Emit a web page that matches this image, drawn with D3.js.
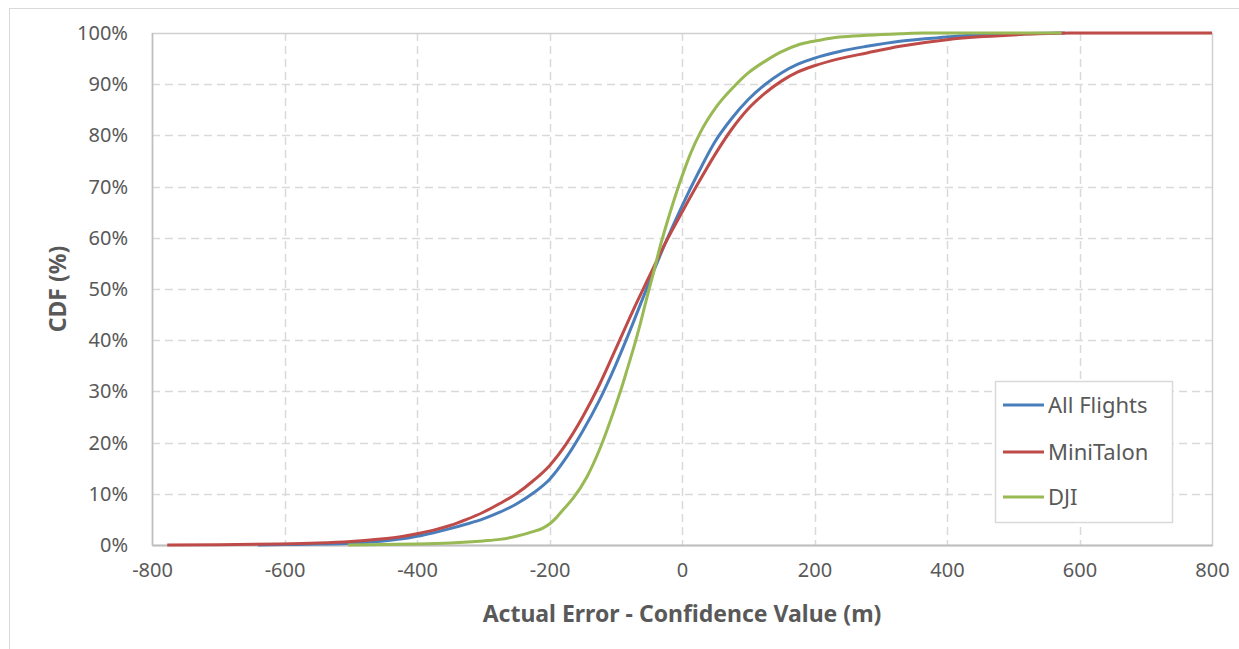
<!DOCTYPE html>
<html>
<head>
<meta charset="utf-8">
<script src="https://cdn.jsdelivr.net/npm/d3@7"></script>
<style>
  html, body { margin: 0; padding: 0; background: #ffffff; }
  svg { display: block; }
  text { font-family: "Noto Sans", "Open Sans", sans-serif; fill: #595959; }
</style>
</head>
<body>
<svg id="chart" width="1239" height="649"></svg>
<script>
// ---- Data ----
const seriesNames = ["All Flights", "MiniTalon", "DJI"];
const seriesColors = ["#4a7ebb", "#be4b48", "#98b954"];

// [Actual Error - Confidence Value (m), CDF %]
const allFlights = [
  [-640,0],[-600,0.08],[-550,0.18],[-500,0.35],[-450,0.8],[-425,1.15],[-400,1.7],[-375,2.4],
  [-350,3.2],[-325,4.1],[-300,5.1],[-275,6.4],[-250,8.0],[-225,10.1],[-200,12.8],[-175,17.0],
  [-150,22.2],[-125,28.2],[-100,35.2],[-75,43.0],[-50,51.2],[-25,59.0],[0,66.2],[25,72.8],
  [50,78.8],[75,83.3],[100,87.0],[125,89.9],[150,92.2],[175,93.9],[200,95.1],[238,96.4],
  [279,97.4],[329,98.4],[400,99.2],[455,99.7],[520,99.9],[578,100]
];
const miniTalon = [
  [-777,0],[-700,0.05],[-607,0.2],[-550,0.4],[-500,0.7],[-450,1.2],[-425,1.6],[-400,2.2],
  [-375,2.9],[-350,3.8],[-325,5.0],[-300,6.4],[-275,8.1],[-250,10.0],[-225,12.5],[-200,15.5],
  [-175,19.7],[-150,25.0],[-125,31.2],[-100,38.3],[-75,45.5],[-50,52.3],[-25,59.0],[0,65.0],
  [25,70.8],[50,76.3],[75,81.2],[100,85.2],[125,88.2],[150,90.6],[175,92.4],[200,93.6],
  [238,95.0],[279,96.1],[329,97.4],[400,98.7],[455,99.3],[530,99.8],[586,100],[800,100]
];
const dji = [
  [-504,0],[-450,0.1],[-400,0.2],[-350,0.4],[-300,0.8],[-275,1.1],[-250,1.7],[-225,2.6],
  [-210,3.3],[-199,4.2],[-190,5.3],[-180,6.8],[-164,9.2],[-144,13.2],[-124,18.8],[-104,25.8],
  [-91,30.8],[-83,34.2],[-69,40.3],[-63,43.2],[-53,48.3],[-43,53.2],[-33,58.3],[-23,62.8],
  [-13,67.0],[0,72.0],[13,76.5],[27,80.4],[52,85.6],[77.5,89.4],[100,92.2],[128,94.7],
  [148,96.2],[178,97.8],[208,98.6],[238,99.2],[279,99.55],[330,99.85],[364,100],[573,100]
];
const seriesData = [allFlights, miniTalon, dji];

const xTicks = [-800, -600, -400, -200, 0, 200, 400, 600, 800];
const yTicks = [0, 10, 20, 30, 40, 50, 60, 70, 80, 90, 100];
const xTitle = "Actual Error - Confidence Value (m)";
const yTitle = "CDF (%)";

// ---- Layout ----
const svg = d3.select("#chart");
const plot = { left: 152, top: 33, right: 1212, bottom: 545 };

// outer chart border
svg.append("rect")
  .attr("x", 9.5).attr("y", 8.5)
  .attr("width", 1245).attr("height", 660)
  .attr("fill", "#ffffff").attr("stroke", "#d9d9d9").attr("stroke-width", 1);

const x = d3.scaleLinear().domain([-800, 800]).range([plot.left, plot.right]);
const y = d3.scaleLinear().domain([0, 100]).range([plot.bottom, plot.top]);

// gridlines
const grid = svg.append("g");
grid.selectAll("line.v").data(xTicks.slice(1, -1)).join("line")
  .attr("x1", d => Math.round(x(d)) + 0.5).attr("x2", d => Math.round(x(d)) + 0.5)
  .attr("y1", plot.top).attr("y2", plot.bottom)
  .attr("stroke", "#d9d9d9").attr("stroke-width", 1.5).attr("stroke-dasharray", "8,5");
grid.selectAll("line.h").data(yTicks.slice(1, -1)).join("line")
  .attr("y1", d => Math.round(y(d)) + 0.5).attr("y2", d => Math.round(y(d)) + 0.5)
  .attr("x1", plot.left).attr("x2", plot.right)
  .attr("stroke", "#d9d9d9").attr("stroke-width", 1.5).attr("stroke-dasharray", "8,5");

// plot border
svg.append("rect")
  .attr("x", plot.left + 0.5).attr("y", plot.top + 0.5)
  .attr("width", plot.right - plot.left).attr("height", plot.bottom - plot.top)
  .attr("fill", "none").attr("stroke", "#d0d0d0").attr("stroke-width", 1.5);

// axes (labels via d3 axes)
const yAxis = d3.axisLeft(y).tickValues(yTicks).tickFormat(d => d + "%").tickSize(0).tickPadding(24);
const gy = svg.append("g").attr("transform", `translate(${plot.left},0)`).call(yAxis);
gy.select(".domain").remove();

const xAxis = d3.axisBottom(x).tickValues(xTicks).tickFormat(d => String(d)).tickSize(0).tickPadding(18);
const gx = svg.append("g").attr("transform", `translate(0,${plot.bottom})`).call(xAxis);
gx.select(".domain").attr("stroke", "#bfbfbf").attr("stroke-width", 2);

svg.selectAll(".tick text")
  .attr("font-family", null).attr("font-size", null)
  .style("font-family", '"Noto Sans", "Open Sans", sans-serif')
  .style("font-size", "20px").attr("fill", "#595959");

// left axis line
svg.append("line")
  .attr("x1", plot.left + 0.5).attr("x2", plot.left + 0.5)
  .attr("y1", plot.top).attr("y2", plot.bottom)
  .attr("stroke", "#bfbfbf").attr("stroke-width", 1.5);

// series lines
const line = d3.line().x(d => x(d[0])).y(d => y(d[1])).curve(d3.curveMonotoneX);
seriesData.forEach((data, i) => {
  svg.append("path")
    .datum(data)
    .attr("d", line)
    .attr("fill", "none")
    .attr("stroke", seriesColors[i])
    .attr("stroke-width", 3)
    .attr("stroke-linejoin", "round");
});

// axis titles
svg.append("text")
  .attr("x", (plot.left + plot.right) / 2).attr("y", 622)
  .attr("text-anchor", "middle")
  .style("font-size", "23px").style("font-weight", "bold")
  .text(xTitle);
svg.append("text")
  .attr("transform", `translate(66,${(plot.top + plot.bottom) / 2}) rotate(-90)`)
  .attr("text-anchor", "middle")
  .style("font-size", "23px").style("font-weight", "bold")
  .text(yTitle);

// legend
const legend = svg.append("g");
legend.append("rect")
  .attr("x", 995.5).attr("y", 381.5).attr("width", 177).attr("height", 141)
  .attr("fill", "#ffffff").attr("stroke", "#d9d9d9").attr("stroke-width", 1.5);
const legendY = [405, 452, 497];
seriesNames.forEach((name, i) => {
  legend.append("line")
    .attr("x1", 1003).attr("x2", 1044)
    .attr("y1", legendY[i]).attr("y2", legendY[i])
    .attr("stroke", seriesColors[i]).attr("stroke-width", 3);
  legend.append("text")
    .attr("x", 1048).attr("y", legendY[i] + 8)
    .style("font-size", "22px")
    .text(name);
});
</script>
</body>
</html>
